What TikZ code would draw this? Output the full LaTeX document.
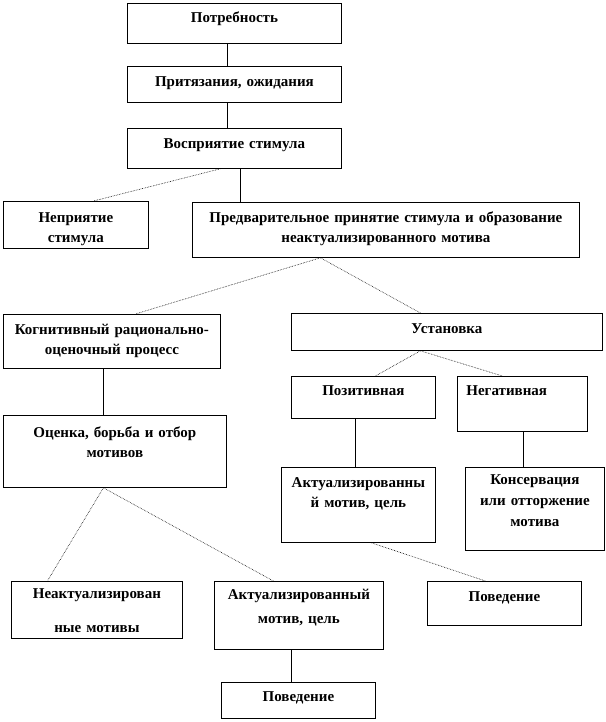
\documentclass[tikz,border=0pt]{standalone}
\usepackage{fontspec}
\setmainfont{Liberation Serif}
\usepackage{tikz}

\tikzset{
 box/.style={draw, line width=0.8pt, inner sep=0pt, anchor=north west, align=center, text height=20pt},
 link/.style={draw, line width=0.6pt},
 dlink/.style={draw, line width=0.6pt, densely dotted}
}

\begin{document}
\begin{tikzpicture}[x=1pt,y=-1pt,font=\fontsize{15pt}{20pt}\selectfont\bfseries]
 \useasboundingbox (0,0) rectangle (605,722);

 \node[box, text width=214pt, text height=19pt, text depth=21pt] (need) at (127,3) {Потребность};
 \node[box, text width=214pt, text depth=16pt] (claim) at (127,66) {Притязания, ожидания};
 \node[box, text width=214pt, text depth=20pt] (percep) at (127,128) {Восприятие стимула};
 \node[box, text width=145pt, text height=21pt, text depth=26pt] (reject) at (3,201) {Неприятие\\стимула};
 \node[box, text width=387pt, text depth=35pt] (accept) at (192,202) {Предварительное принятие стимула и образование\\неактуализированного мотива};

 \node[box, text width=217pt, text depth=34pt] (cogn) at (3,314) {Когнитивный рационально-\\оценочный процесс};
 \node[box, text width=311pt, text depth=17pt] (attit) at (291,313) {Установка};
 \node[box, text width=144pt, text height=19pt, text depth=23pt] (posit) at (291,376) {Позитивная};
 \node[box, text width=130pt, text height=19pt, text depth=36pt, align=left] (negat) at (457,376) {\hspace*{9pt}Негативная};

 \node[box, text width=223pt, text height=22pt, text depth=50pt] (eval) at (3,415) {Оценка, борьба и отбор\\мотивов};
 \node[box, text width=154pt, text depth=55pt] (actA) at (281,467) {Актуализированны\\й мотив, цель};
 \node[box, text width=139pt, text height=17pt, text depth=66pt] (conserv) at (465,467) {Консервация\\[1pt]или отторжение\\[1pt]мотива};

 \node[box, text width=171pt, text height=17pt, text depth=40pt] (nonact) at (11,581) {Неактуализирован\\[14pt]ные мотивы};
 \node[box, text width=169pt, text height=18pt, text depth=50pt] (actB) at (214,581) {Актуализированный\\[4pt]мотив, цель};
 \node[box, text width=154pt, text depth=24pt] (behA) at (427,581) {Поведение};
 \node[box, text width=154pt, text height=19pt, text depth=17pt] (behB) at (221,682) {Поведение};

 \path[link]
 ([xshift=-7pt]need.south) edge ([xshift=-7pt]claim.north)
 ([xshift=-7pt]claim.south) edge ([xshift=-7pt]percep.north)
 ([xshift=6pt]percep.south) edge ([xshift=-145.5pt]accept.north)
 ([xshift=-8.5pt]cogn.south) edge ([xshift=-11.5pt]eval.north)
 ([xshift=-8pt]posit.south) edge ([xshift=-3pt]actA.north)
 ([xshift=1pt]negat.south) edge ([xshift=-11.5pt]conserv.north)
 ([xshift=-7.5pt]actB.south) edge ([xshift=-7pt]behB.north);
 \path[dlink]
 ([xshift=-14pt]percep.south) edge ([xshift=17.5pt]reject.north)
 ([xshift=-65.5pt]accept.south) edge ([xshift=23.5pt]cogn.north)
 ([xshift=-65.5pt]accept.south) edge ([xshift=-26.5pt]attit.north)
 ([xshift=-26.5pt]attit.south) edge ([xshift=12pt]posit.north)
 ([xshift=-26.5pt]attit.south) edge ([xshift=-20pt]negat.north)
 ([xshift=-11.5pt]eval.south) edge ([xshift=-49.5pt]nonact.north)
 ([xshift=-11.5pt]eval.south) edge ([xshift=-25.5pt]actB.north)
 ([xshift=13pt]actA.south) edge ([xshift=-19pt]behA.north);
\end{tikzpicture}
\end{document}
